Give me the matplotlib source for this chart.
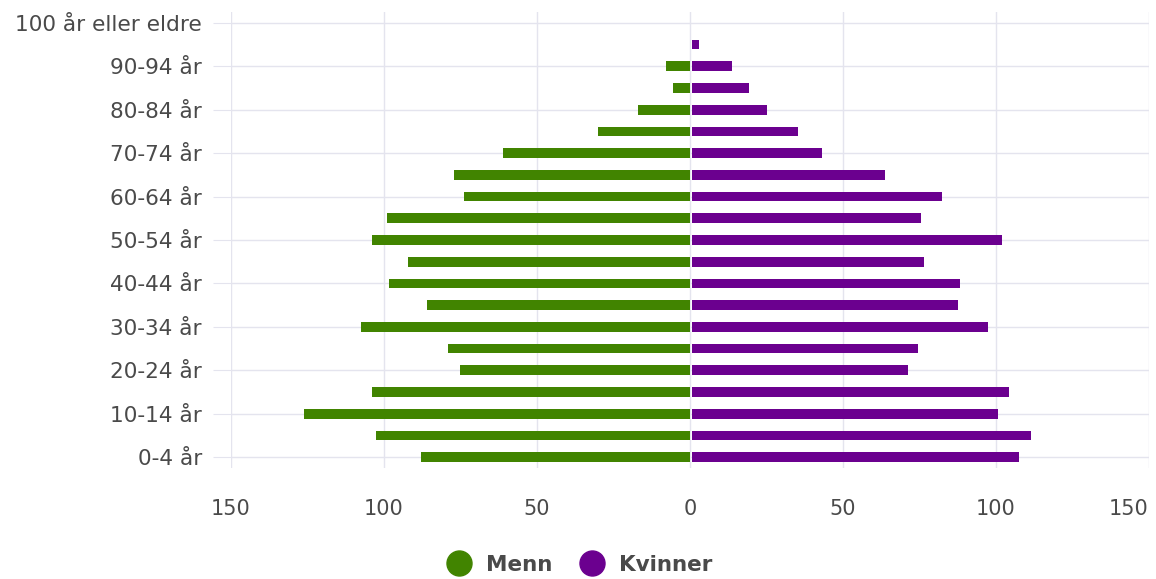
import matplotlib
matplotlib.use("Agg")
import matplotlib.pyplot as plt
from matplotlib.lines import Line2D
from matplotlib.transforms import ScaledTranslation

# age groups, bottom to top
ages = ["0-4 år", "5-9 år", "10-14 år", "15-19 år", "20-24 år", "25-29 år",
        "30-34 år", "35-39 år", "40-44 år", "45-49 år", "50-54 år", "55-59 år",
        "60-64 år", "65-69 år", "70-74 år", "75-79 år", "80-84 år", "85-89 år",
        "90-94 år", "95-99 år", "100 år eller eldre"]
menn = [88, 102.5, 126.3, 104, 75.2, 79, 107.4, 86, 98.5, 92, 104, 99,
        73.7, 77, 61, 30, 17, 5.6, 8, 0, 0]
kvinner = [107, 110.7, 100, 103.8, 70.8, 74, 96.7, 87, 87.6, 76, 101.3, 74.9,
           81.7, 63, 42.4, 34.8, 24.5, 18.6, 13, 2.5, 0]
xticks = [-150, -100, -50, 0, 50, 100, 150]
xticklabels = ["150", "100", "50", "0", "50", "100", "150"]

green = "#418400"
purple = "#6b008f"
txt = "#4a4a4a"
gridc = "#e4e4ee"

plt.rcParams['font.family'] = ["DejaVu Sans"]

fig = plt.figure(figsize=(11.56, 5.79), dpi=100)
ax = fig.add_axes([231 / 1156, 1 - 468 / 579, (1149 - 231) / 1156, (468 - 12) / 579])

ypos = list(range(len(ages)))
ax.barh(ypos, [-m for m in menn], height=0.45, color=green, zorder=3)
ax.barh(ypos, kvinner, height=0.45, color=purple, left=0.6, zorder=3)

ax.set_xlim(-150, 150)
ax.set_ylim(-0.5, 20.5)
ax.set_xticks(xticks)
ax.set_xticklabels(xticklabels)
ax.set_yticks(ypos[::2])
ax.set_yticklabels(ages[::2])

for s in ax.spines.values():
    s.set_visible(False)
ax.grid(True, axis="both", color=gridc, linewidth=1, zorder=0)
ax.tick_params(axis="y", length=13, color=gridc, labelsize=15.6, labelcolor=txt, pad=8)
ax.tick_params(axis="x", length=0, labelsize=15, labelcolor=txt, pad=22)

# last x label pulled inward so it stays inside the picture
last = ax.get_xticklabels()[-1]
last.set_transform(last.get_transform() + ScaledTranslation(-0.2, 0, fig.dpi_scale_trans))

handles = [Line2D([], [], marker="o", linestyle="", markersize=18, color=green),
           Line2D([], [], marker="o", linestyle="", markersize=18, color=purple)]
leg = fig.legend(handles, ["Menn", "Kvinner"], loc="center", bbox_to_anchor=(0.502, 1 - 565 / 579),
                 ncol=2, frameon=False, handlelength=1.0, handletextpad=0.76, columnspacing=1.3,
                 prop={"weight": "bold", "size": 15.5})
for t in leg.get_texts():
    t.set_color(txt)

fig.savefig("out.png", dpi=100)
